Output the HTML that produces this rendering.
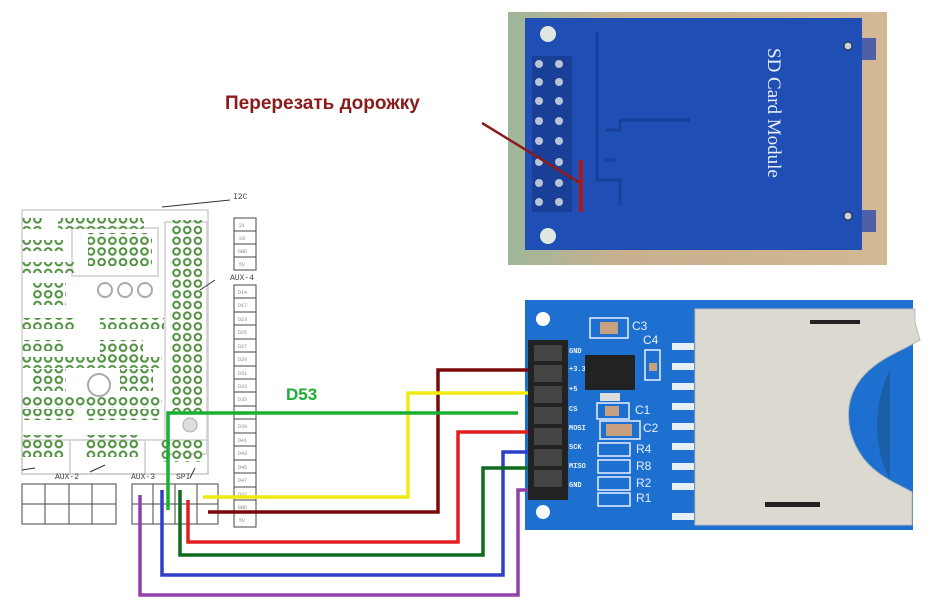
<!DOCTYPE html>
<html><head><meta charset="utf-8"><style>
html,body{margin:0;padding:0;background:#fff;}
svg{display:block;font-family:"Liberation Sans","DejaVu Sans",sans-serif;}
</style></head><body>
<svg width="940" height="610" viewBox="0 0 940 610" xmlns="http://www.w3.org/2000/svg">
<defs>
<pattern id="holes" x="0" y="0" width="10.7" height="10.7" patternUnits="userSpaceOnUse">
<circle cx="5.35" cy="5.35" r="3.3" fill="#fff" stroke="#4f8f40" stroke-width="2"/>
</pattern>
<linearGradient id="wood" x1="0" x2="1"><stop offset="0" stop-color="#9fb69a"/><stop offset="0.3" stop-color="#c9b08e"/><stop offset="1" stop-color="#d2b894"/></linearGradient>
</defs>
<rect width="940" height="610" fill="#fff"/>

<!-- Top photo -->
<rect x="508" y="12" width="379" height="253" fill="url(#wood)"/>
<rect x="862" y="38" width="14" height="22" fill="#5060a8"/>
<rect x="862" y="210" width="14" height="22" fill="#5060a8"/>
<rect x="525" y="18" width="337" height="232" fill="#1f4fb4"/>
<circle cx="548" cy="34" r="8" fill="#dfe8e0"/>
<circle cx="548" cy="236" r="8" fill="#dfe8e0"/>
<circle cx="848" cy="46" r="4" fill="#c8d0d8" stroke="#223" stroke-width="1"/>
<circle cx="848" cy="216" r="4" fill="#c8d0d8" stroke="#223" stroke-width="1"/>
<rect x="532" y="56" width="40" height="156" fill="#1a3f96"/>
<g fill="#b8c4d8">
<circle cx="539" cy="64" r="4"/><circle cx="559" cy="64" r="4"/>
<circle cx="539" cy="82" r="4"/><circle cx="559" cy="82" r="4"/>
<circle cx="539" cy="101" r="4"/><circle cx="559" cy="101" r="4"/>
<circle cx="539" cy="121" r="4"/><circle cx="559" cy="121" r="4"/>
<circle cx="539" cy="141" r="4"/><circle cx="559" cy="141" r="4"/>
<circle cx="539" cy="162" r="4"/><circle cx="559" cy="162" r="4"/>
<circle cx="539" cy="183" r="4"/><circle cx="559" cy="183" r="4"/>
<circle cx="539" cy="202" r="4"/><circle cx="559" cy="202" r="4"/>
</g>
<g stroke="#17409a" stroke-width="3" fill="none">
<path d="M597 32 V180 H620 V205"/>
<path d="M605 130 H620 V120 H690"/>
<path d="M605 160 H615"/>
</g>
<text x="0" y="0" transform="translate(768,48) rotate(90)" fill="#e8eef8" font-family="Liberation Serif,serif" font-size="19">SD Card Module</text>
<line x1="482" y1="123" x2="580" y2="183" stroke="#8b1a1a" stroke-width="2.5"/>
<line x1="581" y1="160" x2="581" y2="212" stroke="#b01818" stroke-width="4"/>
<text x="225" y="109" fill="#8b1a1a" font-size="19" font-weight="bold">Перерезать дорожку</text>

<!-- RAMPS board schematic -->
<g fill="none" stroke="#cfcfcf" stroke-width="1.5">
<rect x="22" y="210" width="186" height="264"/>
<rect x="165" y="222" width="42" height="232"/>
<rect x="72" y="228" width="86" height="48"/>
<rect x="22" y="440" width="186" height="34"/>
<rect x="70" y="440" width="75" height="34"/>
</g>
<line x1="162" y1="207" x2="230" y2="200" stroke="#333" stroke-width="1"/>
<line x1="200" y1="290" x2="215" y2="280" stroke="#333" stroke-width="1"/>
<line x1="22" y1="470" x2="35" y2="468" stroke="#333" stroke-width="1"/>
<line x1="90" y1="472" x2="105" y2="465" stroke="#333" stroke-width="1"/>
<line x1="190" y1="478" x2="195" y2="468" stroke="#333" stroke-width="1"/>
<!-- hole arrays -->
<rect x="170" y="220" width="32" height="192" fill="url(#holes)"/>
<rect x="22" y="218" width="21" height="11" fill="url(#holes)"/>
<rect x="58" y="218" width="86" height="11" fill="url(#holes)"/>
<rect x="22" y="240" width="43" height="11" fill="url(#holes)"/>
<rect x="88" y="233" width="64" height="33" fill="url(#holes)"/>
<rect x="22" y="262" width="54" height="11" fill="url(#holes)"/>
<rect x="33" y="283" width="33" height="22" fill="url(#holes)"/>
<rect x="22" y="318" width="54" height="11" fill="url(#holes)"/>
<rect x="22" y="340" width="43" height="11" fill="url(#holes)"/>
<rect x="100" y="318" width="64" height="11" fill="url(#holes)"/>
<rect x="100" y="340" width="43" height="22" fill="url(#holes)"/>
<rect x="22" y="357" width="140" height="11" fill="url(#holes)"/>
<rect x="33" y="369" width="33" height="22" fill="url(#holes)"/>
<rect x="120" y="369" width="33" height="22" fill="url(#holes)"/>
<rect x="22" y="397" width="140" height="11" fill="url(#holes)"/>
<rect x="22" y="409" width="54" height="11" fill="url(#holes)"/>
<rect x="86" y="409" width="75" height="11" fill="url(#holes)"/>
<rect x="22" y="435" width="43" height="22" fill="url(#holes)"/>
<rect x="86" y="435" width="54" height="22" fill="url(#holes)"/>
<rect x="160" y="440" width="43" height="22" fill="url(#holes)"/>
<g fill="#aaa"><circle cx="105" cy="290" r="7" fill="none" stroke="#aaa" stroke-width="2"/><circle cx="125" cy="290" r="7" fill="none" stroke="#aaa" stroke-width="2"/><circle cx="145" cy="290" r="7" fill="none" stroke="#aaa" stroke-width="2"/><circle cx="99" cy="385" r="11" fill="none" stroke="#aaa" stroke-width="2"/><circle cx="190" cy="425" r="7" fill="#ddd" stroke="#aaa"/></g>
<text x="233" y="199" font-size="8" fill="#444" font-family="Liberation Mono,monospace">I2C</text>
<text x="230" y="280" font-size="8" fill="#444" font-family="Liberation Mono,monospace">AUX-4</text>
<text x="55" y="479" font-size="8" fill="#444" font-family="Liberation Mono,monospace">AUX-2</text>
<text x="131" y="479" font-size="8" fill="#444" font-family="Liberation Mono,monospace">AUX-3</text>
<text x="176" y="479" font-size="8" fill="#444" font-family="Liberation Mono,monospace">SPI</text>
<!-- I2C boxes -->
<g fill="none" stroke="#444" stroke-width="1">
<rect x="234" y="218" width="22" height="52"/>
<line x1="234" y1="231" x2="256" y2="231"/><line x1="234" y1="244" x2="256" y2="244"/><line x1="234" y1="257" x2="256" y2="257"/>
<rect x="234" y="285" width="22" height="242"/>
<rect x="22" y="484" width="94" height="40"/>
<line x1="22" y1="504" x2="116" y2="504"/><line x1="45" y1="484" x2="45" y2="524"/><line x1="69" y1="484" x2="69" y2="524"/><line x1="92" y1="484" x2="92" y2="524"/>
<rect x="132" y="484" width="86" height="40"/>
<line x1="132" y1="504" x2="218" y2="504"/><line x1="153" y1="484" x2="153" y2="524"/><line x1="175" y1="484" x2="175" y2="524"/><line x1="197" y1="484" x2="197" y2="524"/>
</g>
<g stroke="#444" stroke-width="1">
<line x1="234" y1="298" x2="256" y2="298"/><line x1="234" y1="312" x2="256" y2="312"/><line x1="234" y1="325" x2="256" y2="325"/><line x1="234" y1="339" x2="256" y2="339"/><line x1="234" y1="352" x2="256" y2="352"/><line x1="234" y1="366" x2="256" y2="366"/><line x1="234" y1="379" x2="256" y2="379"/><line x1="234" y1="392" x2="256" y2="392"/><line x1="234" y1="406" x2="256" y2="406"/><line x1="234" y1="419" x2="256" y2="419"/><line x1="234" y1="433" x2="256" y2="433"/><line x1="234" y1="446" x2="256" y2="446"/><line x1="234" y1="460" x2="256" y2="460"/><line x1="234" y1="473" x2="256" y2="473"/><line x1="234" y1="487" x2="256" y2="487"/><line x1="234" y1="500" x2="256" y2="500"/><line x1="234" y1="513" x2="256" y2="513"/>
</g>
<g font-size="5" fill="#888" font-family="Liberation Mono,monospace">
<text x="239" y="227">21</text><text x="239" y="240">20</text><text x="238" y="253">GND</text><text x="239" y="266">5V</text>
<text x="238" y="294">D14</text><text x="238" y="307">D17</text><text x="238" y="321">D23</text><text x="238" y="334">D25</text><text x="238" y="348">D27</text><text x="238" y="361">D29</text><text x="238" y="375">D31</text><text x="238" y="388">D33</text><text x="238" y="401">D35</text><text x="238" y="415">D37</text><text x="238" y="428">D39</text><text x="238" y="442">D41</text><text x="238" y="455">D43</text><text x="238" y="469">D45</text><text x="238" y="482">D47</text><text x="238" y="496">D32</text><text x="238" y="509">GND</text><text x="239" y="522">5V</text>
</g>

<!-- SD module board -->
<rect x="525" y="300" width="388" height="230" fill="#1d6fd0"/>
<circle cx="543" cy="319" r="7" fill="#fff"/>
<circle cx="543" cy="512" r="7" fill="#fff"/>
<rect x="528" y="340" width="40" height="160" fill="#222"/>
<g fill="#444"><rect x="534" y="365" width="28" height="17"/><rect x="534" y="386" width="28" height="17"/><rect x="534" y="407" width="28" height="17"/><rect x="534" y="428" width="28" height="17"/><rect x="534" y="449" width="28" height="17"/><rect x="534" y="470" width="28" height="17"/><rect x="534" y="345" width="28" height="16"/></g>
<g font-size="7" fill="#e8f0ff" font-weight="bold" font-family="Liberation Mono,monospace">
<text x="569" y="353">GND</text><text x="569" y="371">+3.3</text><text x="569" y="391">+5</text><text x="569" y="411">CS</text><text x="569" y="430">MOSI</text><text x="569" y="449">SCK</text><text x="569" y="468">MISO</text><text x="569" y="487">GND</text>
</g>
<rect x="590" y="318" width="38" height="20" fill="none" stroke="#e8f0ff" stroke-width="1.5"/>
<rect x="600" y="322" width="18" height="12" fill="#c8a080"/>
<rect x="585" y="355" width="50" height="35" fill="#222"/>
<rect x="600" y="393" width="20" height="8" fill="#ddd"/>
<rect x="645" y="350" width="15" height="30" fill="none" stroke="#e8f0ff" stroke-width="1.5"/>
<rect x="649" y="363" width="8" height="8" fill="#c8a080"/>
<g fill="none" stroke="#e8f0ff" stroke-width="1.5">
<rect x="597" y="403" width="32" height="16"/><rect x="600" y="421" width="40" height="18"/>
<rect x="598" y="443" width="32" height="13"/><rect x="598" y="460" width="32" height="13"/><rect x="598" y="477" width="32" height="13"/><rect x="598" y="493" width="32" height="13"/>
</g>
<rect x="605" y="406" width="14" height="10" fill="#c8a080"/><rect x="606" y="424" width="26" height="12" fill="#c8a080"/>
<g font-size="12" fill="#e8f0ff" font-family="Liberation Sans,sans-serif">
<text x="632" y="330">C3</text><text x="643" y="344">C4</text><text x="635" y="414">C1</text><text x="643" y="432">C2</text>
<text x="636" y="453">R4</text><text x="636" y="470">R8</text><text x="636" y="487">R2</text><text x="636" y="502">R1</text>
</g>
<g fill="#e8eef5"><rect x="672" y="343" width="22" height="7"/><rect x="672" y="363" width="22" height="7"/><rect x="672" y="383" width="22" height="7"/><rect x="672" y="403" width="22" height="7"/><rect x="672" y="423" width="22" height="7"/><rect x="672" y="443" width="22" height="7"/><rect x="672" y="463" width="22" height="7"/><rect x="672" y="483" width="22" height="7"/><rect x="672" y="513" width="22" height="7"/></g>
<path d="M890 370 A70 95 0 0 0 890 480 Z" fill="#1a5fa8"/>
<path d="M695 309 H915 V322 L920 340 L905 348 C880 360 840 380 850 430 C860 470 890 480 912 492 V525 H695 Z" fill="#dcd9d0" stroke="#bbb"/>
<rect x="810" y="320" width="50" height="4" fill="#222"/>
<rect x="765" y="502" width="55" height="5" fill="#222"/>

<!-- wires -->
<g fill="none" stroke-width="3.5" stroke-linejoin="miter">
<path d="M140 495 V595 H518 V490 H528" stroke="#9040a8"/>
<path d="M162 490 V575 H503 V452 H528" stroke="#2d3ec8"/>
<path d="M180 490 V555 H483 V468 H528" stroke="#0e6a1e"/>
<path d="M188 500 V542 H458 V432 H528" stroke="#e02020"/>
<path d="M208 512 H438 V370 H528" stroke="#7a0a0a"/>
<path d="M203 497 H408 V393 H528" stroke="#f0ea10"/>
<path d="M168 510 V413 H518" stroke="#18b030"/>
</g>
<text x="286" y="400" font-size="17" font-weight="bold" fill="#18b030">D53</text>
</svg>
</body></html>
